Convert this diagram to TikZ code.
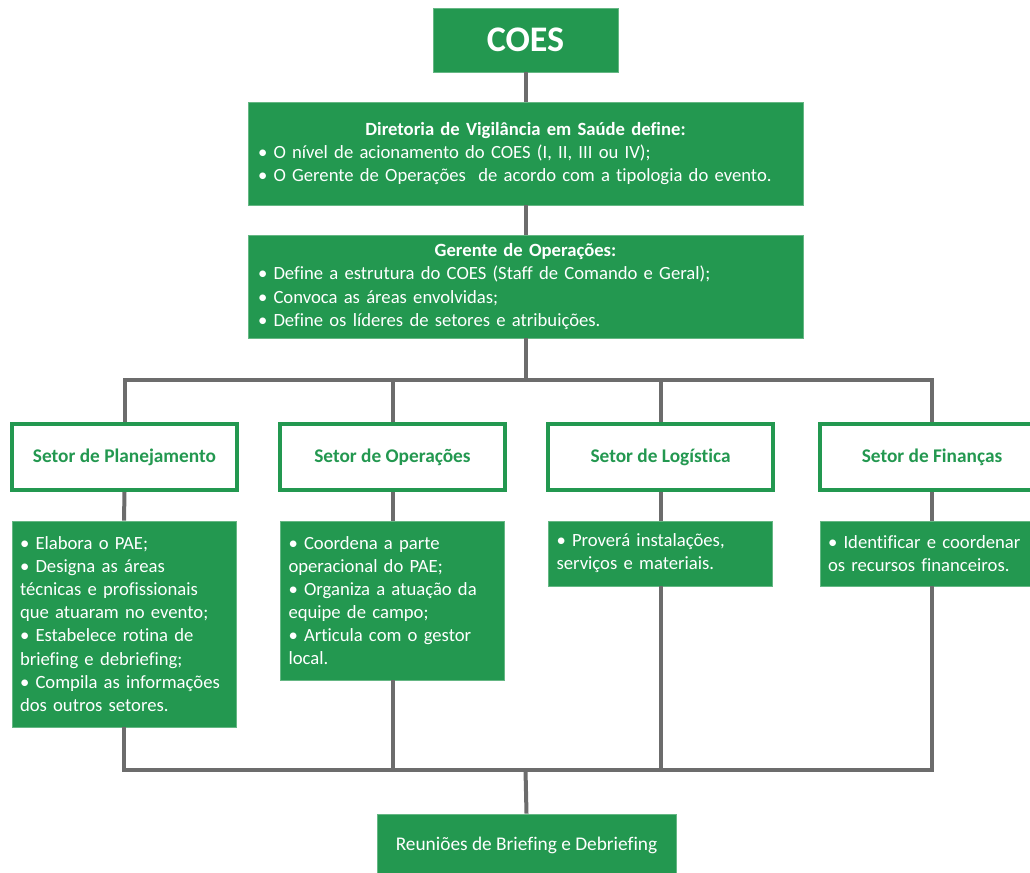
\documentclass[tikz,border=0pt]{standalone}
\usepackage{fontspec}
\setmainfont{Carlito}[Ligatures=CommonOff]
\usetikzlibrary{positioning}
\definecolor{coesgreen}{RGB}{35,152,80}
\definecolor{linegray}{RGB}{108,108,108}

\begin{document}
\begin{tikzpicture}[x=0.75pt, y=-0.75pt,
  gbox/.style={fill=coesgreen, draw=coesgreen!70!white, line width=0.5pt, text=white, inner sep=0pt,
    font=\fontsize{14}{17.3}\selectfont},
  headbox/.style={fill=white, draw=coesgreen, line width=3pt, text=coesgreen, inner sep=0pt,
    minimum width=168.75pt, minimum height=49.5pt, font=\fontsize{14.5}{16}\selectfont\bfseries},
  descbox/.style={gbox, minimum width=168pt, text width=156pt, align=left},
  conn/.style={draw=linegray, line width=3pt}]
\useasboundingbox (0,0) rectangle (1030,872);

% top of the chart
\node[gbox, minimum width=138.75pt, minimum height=48pt, font=\fontsize{27}{28}\selectfont\bfseries] (coes) at (525.5,40) {COES};
\node[gbox, minimum width=416.25pt, minimum height=77.25pt, text width=401.25pt, align=left] (dir) at (525.5,153.5)
  {\makebox[\linewidth]{\bfseries Diretoria de Vigilância em Saúde define:}\\
   • O nível de acionamento do COES (I, II, III ou IV);\\
   • O Gerente de Operações\ \ de acordo com a tipologia do evento.};
\node[gbox, minimum width=416.25pt, minimum height=77.25pt, text width=401.25pt, align=left] (ger) at (525.5,286.5)
  {\makebox[\linewidth]{\bfseries Gerente de Operações:}\\
   • Define a estrutura do COES (Staff de Comando e Geral);\\
   • Convoca as áreas envolvidas;\\
   • Define os líderes de setores e atribuições.};

% sectors
\node[headbox] (hplan) at (124.5,457) {Setor de Planejamento};
\node[headbox] (hop) at (392.5,457) {Setor de Operações};
\node[headbox] (hlog) at (660.5,457) {Setor de Logística};
\node[headbox] (hfin) at (932,457) {Setor de Finanças};

\node[descbox, minimum height=154.5pt] (dplan) at (124,624)
  {• Elabora o PAE;\\
   • Designa as áreas\\
   técnicas e profissionais\\
   que atuaram no evento;\\
   • Estabelece rotina de\\
   briefing e debriefing;\\
   • Compila as informações\\
   dos outros setores.};
\node[descbox, minimum height=119.25pt] (dop) at (392.5,600.5)
  {• Coordena a parte\\
   operacional do PAE;\\
   • Organiza a atuação da\\
   equipe de campo;\\
   • Articula com o gestor\\
   local.};
\node[descbox, minimum height=48.75pt] (dlog) at (660.5,553.5)
  {• Proverá instalações,\\
   serviços e materiais.};
\node[descbox, minimum height=48.75pt] (dfin) at (932,553.5)
  {• Identificar e coordenar\\
   os recursos financeiros.};

\node[gbox, minimum width=224.25pt, minimum height=46.5pt, font=\fontsize{14.5}{16}\selectfont] (reun) at (526.5,845)
  {Reuniões de Briefing e Debriefing};

% connectors
\coordinate (busT) at (525.5,380);
\coordinate (busB) at (525.5,770);
\draw[conn] (coes.south) -- (dir.north);
\draw[conn] (dir.south) -- (ger.north);
\draw[conn] (ger.south) -- (busT);
\draw[conn] (hplan.north) |- (busT) -| (hfin.north);
\draw[conn] (hop.north) -- (hop.north |- busT);
\draw[conn] (hlog.north) -- (hlog.north |- busT);
\foreach \s in {plan,op,log,fin}
  \draw[conn] (h\s.south) -- (d\s.north);
\draw[conn] (dplan.south) |- (busB) -| (dfin.south);
\draw[conn] (dop.south) -- (dop.south |- busB);
\draw[conn] (dlog.south) -- (dlog.south |- busB);
\draw[conn] (busB) -- (reun.north);
\end{tikzpicture}
\end{document}
